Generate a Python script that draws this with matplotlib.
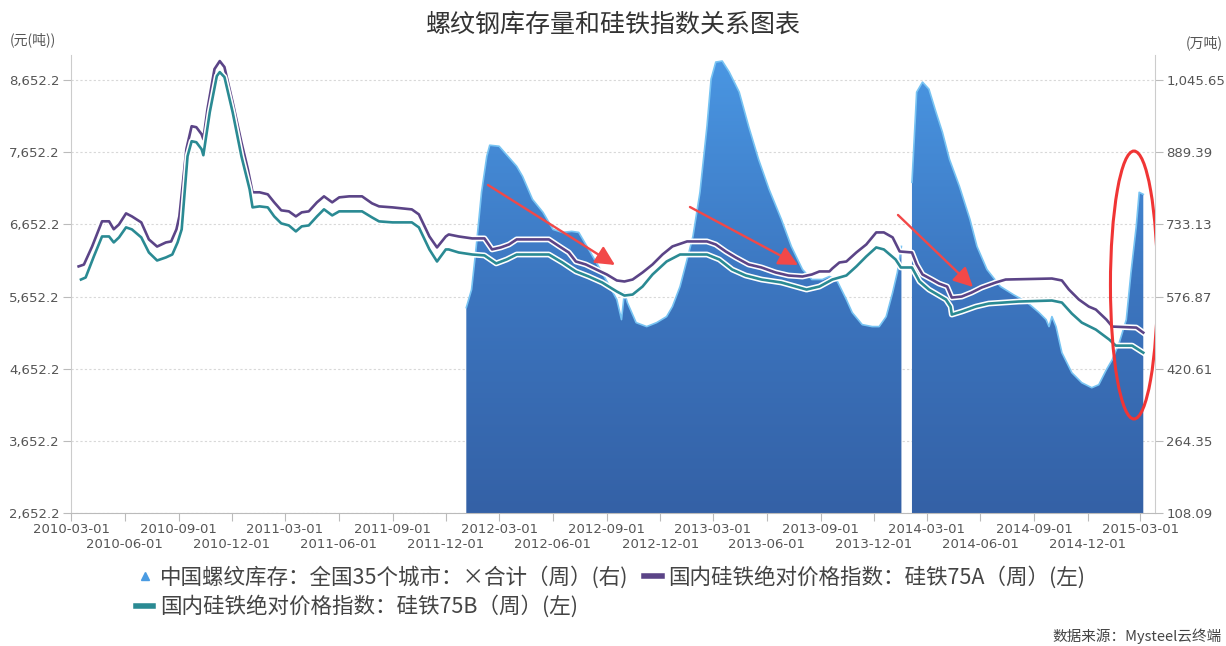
import numpy as np
import pandas as pd
import matplotlib
matplotlib.use('Agg')
import matplotlib.pyplot as plt
import matplotlib.dates as mdates
from matplotlib.lines import Line2D
from matplotlib.patches import Ellipse, PathPatch
from matplotlib.path import Path
from matplotlib.colors import LinearSegmentedColormap
import matplotlib.patheffects as pe

CJK = ['Noto Sans CJK SC', 'DejaVu Sans']
plt.rcParams['font.family'] = CJK

title = "螺纹钢库存量和硅铁指数关系图表"
left_unit = "(元(吨))"
right_unit = "(万吨)"
source = "数据来源：Mysteel云终端"
label_inv = "中国螺纹库存：全国35个城市：×合计（周）(右)"
label_a = "国内硅铁绝对价格指数：硅铁75A（周）(左)"
label_b = "国内硅铁绝对价格指数：硅铁75B（周）(左)"

left_ticks = [2652.2, 3652.2, 4652.2, 5652.2, 6652.2, 7652.2, 8652.2]
right_ticks = [108.09, 264.35, 420.61, 576.87, 733.13, 889.39, 1045.65]
x_ticks = ["2010-03-01", "2010-06-01", "2010-09-01", "2010-12-01", "2011-03-01",
           "2011-06-01", "2011-09-01", "2011-12-01", "2012-03-01", "2012-06-01",
           "2012-09-01", "2012-12-01", "2013-03-01", "2013-06-01", "2013-09-01",
           "2013-12-01", "2014-03-01", "2014-06-01", "2014-09-01", "2014-12-01",
           "2015-03-01"]

dates_75a = ["2010-03-14","2010-03-23","2010-04-06","2010-04-23","2010-05-05","2010-05-13","2010-05-22","2010-06-03","2010-06-13","2010-06-29",
             "2010-07-12","2010-07-26","2010-08-10","2010-08-19","2010-08-28","2010-09-02","2010-09-14","2010-09-23","2010-10-01","2010-10-10",
             "2010-10-13","2010-10-20","2010-11-01","2010-11-10","2010-11-18","2010-12-02","2010-12-17","2010-12-28",
             "2011-01-05","2011-01-17","2011-01-31","2011-02-11","2011-02-23","2011-03-08","2011-03-20","2011-03-30","2011-04-11","2011-04-25",
             "2011-05-07","2011-05-21","2011-06-02","2011-06-19","2011-07-11","2011-07-28","2011-08-09","2011-09-01","2011-10-04","2011-10-16",
             "2011-11-03","2011-11-16","2011-12-01","2011-12-06","2011-12-23",
             "2012-01-15","2012-02-05","2012-02-18","2012-03-04","2012-03-18","2012-03-31","2012-05-25","2012-06-12","2012-06-28","2012-07-10",
             "2012-07-27","2012-08-14","2012-09-01","2012-09-18","2012-10-01","2012-10-15","2012-11-01","2012-11-18","2012-12-05","2012-12-22",
             "2013-01-16","2013-02-19","2013-03-06","2013-03-23","2013-04-09","2013-05-01","2013-05-23","2013-06-16","2013-07-08","2013-08-01",
             "2013-08-17","2013-08-30","2013-09-16","2013-09-21","2013-10-03","2013-10-15","2013-11-01","2013-11-18","2013-12-05","2013-12-18",
             "2014-01-02","2014-01-14","2014-02-04","2014-02-12","2014-02-22","2014-03-10","2014-03-22","2014-04-05","2014-04-13","2014-04-30",
             "2014-05-17","2014-06-03","2014-06-27","2014-07-14","2014-10-01","2014-10-18","2014-10-30","2014-11-16","2014-12-03","2014-12-15",
             "2015-01-02","2015-01-12","2015-02-22","2015-03-06"]
values_75a = [6070,6095,6345,6695,6695,6585,6652,6805,6763,6680,
              6444,6345,6402,6416,6583,6763,7694,8013,7999,7902,
              7833,8249,8805,8916,8833,8347,7791,7416,
              7097,7097,7069,6958,6847,6833,6763,6819,6833,6958,
              7041,6958,7027,7041,7041,6944,6902,6888,6860,6791,
              6485,6333,6485,6513,6485,
              6458,6458,6305,6333,6374,6444,6444,6347,6263,6138,
              6097,6027,5958,5875,5861,5888,5986,6097,6235,6347,
              6416,6416,6374,6277,6194,6097,6055,5986,5944,5930,
              5958,6000,6000,6041,6124,6138,6263,6374,6541,6541,
              6472,6277,6263,6097,5958,5888,5833,5791,5638,5652,
              5708,5777,5847,5888,5902,5875,5749,5611,5513,5472,
              5333,5236,5222,5152]

dates_75b = ["2010-03-18","2010-03-26","2010-04-09","2010-04-23","2010-05-05","2010-05-13","2010-05-22","2010-06-03","2010-06-13","2010-06-29",
             "2010-07-12","2010-07-26","2010-08-10","2010-08-21","2010-08-30","2010-09-06","2010-09-16","2010-09-23","2010-10-01","2010-10-10",
             "2010-10-13","2010-10-24","2010-11-05","2010-11-10","2010-11-18","2010-12-02","2010-12-17","2010-12-31",
             "2011-01-05","2011-01-17","2011-01-31","2011-02-11","2011-02-23","2011-03-08","2011-03-20","2011-03-30","2011-04-11","2011-04-25",
             "2011-05-07","2011-05-21","2011-06-02","2011-06-19","2011-07-11","2011-07-28","2011-08-09","2011-09-01","2011-10-04","2011-10-16",
             "2011-11-03","2011-11-16","2011-12-01","2011-12-06","2011-12-23",
             "2012-01-15","2012-02-05","2012-02-25","2012-03-14","2012-03-31","2012-05-25","2012-06-17","2012-07-10","2012-08-01","2012-08-24",
             "2012-09-18","2012-10-01","2012-10-15","2012-11-01","2012-11-18","2012-12-12",
             "2013-01-04","2013-02-19","2013-03-12","2013-04-03","2013-04-26","2013-05-23","2013-06-26","2013-08-08","2013-08-30","2013-09-21",
             "2013-10-15","2013-11-01","2013-11-18","2013-12-05","2013-12-18",
             "2014-01-07","2014-01-16","2014-02-04","2014-02-17","2014-03-05","2014-04-03","2014-04-11","2014-04-13","2014-04-30","2014-05-24",
             "2014-06-15","2014-08-05","2014-10-01","2014-10-18","2014-11-04","2014-11-21","2014-12-15",
             "2015-01-07","2015-01-18","2015-02-15","2015-03-06"]
values_75b = [5888,5916,6208,6485,6485,6402,6472,6611,6583,6472,
              6263,6152,6194,6235,6402,6583,7597,7805,7791,7694,
              7611,8208,8708,8763,8694,8208,7597,7138,
              6888,6902,6888,6763,6666,6638,6555,6625,6638,6763,
              6861,6777,6833,6833,6833,6749,6694,6680,6680,6611,
              6305,6138,6305,6305,6263,
              6235,6222,6111,6166,6235,6235,6124,6000,5930,5847,
              5722,5666,5680,5791,5958,6138,
              6235,6235,6166,6027,5944,5888,5847,5749,5791,5888,
              5944,6069,6208,6333,6305,
              6166,6055,6055,5861,5749,5611,5513,5402,5444,5513,
              5555,5583,5597,5569,5416,5291,5194,
              5055,4972,4972,4874]

dates_inv = ["2012-01-05","2012-01-14","2012-01-22","2012-01-31","2012-02-09","2012-02-14","2012-03-01","2012-03-13","2012-03-31","2012-04-10",
             "2012-04-27","2012-05-15","2012-06-01","2012-06-17","2012-07-03","2012-07-15","2012-08-01","2012-08-18","2012-09-06","2012-09-18",
             "2012-09-26","2012-10-01","2012-10-06","2012-10-21","2012-11-08","2012-11-25","2012-12-12","2012-12-22",
             "2013-01-04","2013-01-16","2013-01-26","2013-02-07","2013-02-19","2013-02-26","2013-03-06","2013-03-17","2013-03-29","2013-04-15",
             "2013-05-01","2013-05-18","2013-06-05","2013-06-26","2013-07-13","2013-08-01","2013-08-17","2013-09-04","2013-09-16","2013-09-28",
             "2013-10-15","2013-10-25","2013-11-11","2013-11-28","2013-12-10","2013-12-22",
             "2014-01-02","2014-01-10","2014-01-17","2014-01-26","2014-02-04","2014-02-12","2014-02-22","2014-03-05","2014-03-17","2014-03-28",
             "2014-04-09","2014-04-26","2014-05-14","2014-05-26","2014-06-12","2014-07-05","2014-07-27","2014-08-20","2014-09-09","2014-09-21",
             "2014-09-26","2014-10-01","2014-10-08","2014-10-18","2014-11-04","2014-11-21","2014-12-08","2014-12-20",
             "2015-01-02","2015-01-12","2015-01-24","2015-02-05","2015-02-13","2015-02-22","2015-02-27","2015-03-06"]
values_inv = [552.9,592.0,685.4,802.6,880.7,904.6,902.4,885.0,859.0,837.3,
              787.4,759.2,722.3,715.8,718.0,715.8,678.9,642.0,598.6,570.3,
              526.9,585.5,563.8,520.4,511.8,520.4,533.4,555.2,
              598.6,657.2,707.1,802.6,945.8,1047.8,1084.7,1086.9,1063.0,1019.6,
              945.8,874.2,809.1,744.0,685.4,635.5,613.8,613.8,620.3,613.8,
              570.3,542.1,516.1,511.8,511.8,533.4,
              585.5,628.9,685.4,np.nan,824.3,1019.6,1041.3,1026.1,976.2,932.8,
              874.2,815.6,744.0,685.4,635.5,598.6,581.2,563.8,542.1,526.9,
              511.8,533.4,511.8,455.3,411.9,390.2,379.4,385.9,
              418.4,440.1,477.0,526.9,628.9,728.8,802.6,798.2]

C_A = '#5b4487'
C_B = '#2a8a93'
C_INV_TOP = '#4a97e3'
C_INV_BOT = '#3461a6'
C_TEXT = '#555555'

da = pd.to_datetime(dates_75a)
db = pd.to_datetime(dates_75b)
di = pd.to_datetime(dates_inv)
vi = np.array(values_inv, dtype=float)

fig = plt.figure(figsize=(12.26, 6.46), dpi=100)
fig.patch.set_facecolor('white')
ax = fig.add_axes([71/1226, 133/646, 1084/1226, 458/646])
ax2 = ax.twinx()
ax.set_zorder(ax2.get_zorder() + 1)
ax.patch.set_visible(False)

xmin = pd.Timestamp("2010-03-01")
xmax = pd.Timestamp("2015-03-26")
y2min, y2max = 108.09, 1100.0

# inventory area with vertical gradient
ok = np.isfinite(vi)
coll = ax2.fill_between(di, 0, vi, where=ok, facecolor='none', edgecolor='none', interpolate=False)
cpath = Path.make_compound_path(*coll.get_paths())
clip = PathPatch(cpath, transform=ax2.transData, facecolor='none', edgecolor='none')
ax2.add_patch(clip)
cmap = LinearSegmentedColormap.from_list('g', [C_INV_BOT, '#3c76c0', C_INV_TOP])
grad = np.linspace(0, 1, 256).reshape(-1, 1)
img = ax2.imshow(grad, extent=[mdates.date2num(xmin), mdates.date2num(xmax), y2min, y2max],
                 aspect='auto', cmap=cmap, origin='lower', zorder=1, interpolation='bilinear')
img.set_clip_path(clip)
ax2.plot(di, vi, color='#78c4f3', lw=1.2, zorder=2)

ax2.set_ylim(y2min, y2max)
ax2.set_yticks(right_ticks)
ax2.set_yticklabels([f"{v:,.2f}" for v in right_ticks])
ax2.yaxis.grid(True, color='#d8d8d8', linestyle=(0, (2, 2)), lw=0.8, zorder=0)
ax2.set_axisbelow(True)

halo = [pe.Stroke(linewidth=4.2, foreground='white'), pe.Normal()]
ax.plot(da, values_75a, color=C_A, lw=1.9, path_effects=halo, zorder=3)
ax.plot(db, values_75b, color=C_B, lw=1.9, path_effects=halo, zorder=3)
ax.set_ylim(2652.2, 9000)
ax.set_yticks(left_ticks)
ax.set_yticklabels([f"{v:,.1f}" for v in left_ticks])
ax.set_xlim(xmin, xmax)

xt = pd.to_datetime(x_ticks)
ax.set_xticks(xt[0::2])
ax.set_xticklabels(x_ticks[0::2])
ax.set_xticks(xt[1::2], minor=True)
ax.set_xticklabels(x_ticks[1::2], minor=True)

for a in (ax, ax2):
    a.tick_params(axis='both', which='both', colors='#bbbbbb', labelcolor=C_TEXT, labelsize=9.5,
                  length=6, width=0.8, pad=2)
ax.tick_params(axis='x', which='major', pad=1)
ax.tick_params(axis='x', which='minor', pad=12)
for lab in (ax.get_xticklabels() + ax.get_xticklabels(minor=True) + ax.get_yticklabels()
            + ax2.get_yticklabels()):
    lab.set_family('DejaVu Sans')

for s in ['top', 'right']:
    ax.spines[s].set_visible(False)
for s in ['top', 'left', 'bottom']:
    ax2.spines[s].set_visible(False)
ax.spines['left'].set_color('#cccccc')
ax.spines['bottom'].set_color('#bbbbbb')
ax2.spines['right'].set_color('#cccccc')

# annotations
arrow_kw = dict(arrowstyle='-|>,head_length=0.9,head_width=0.45', color='#f24848', lw=1.7,
                mutation_scale=13, shrinkA=0, shrinkB=0)
for start, end in [((0.3847, 0.7162), (0.5018, 0.5415)),
                   ((0.5710, 0.6681), (0.6707, 0.5415)),
                   ((0.7629, 0.6507), (0.8321, 0.4934))]:
    ax.annotate('', xy=end, xytext=start, xycoords='axes fraction', textcoords='axes fraction',
                arrowprops=arrow_kw, zorder=10)
ax.add_patch(Ellipse((0.9806, 0.4978), 0.0434, 0.585, transform=ax.transAxes, fill=False,
                     ec='#f03535', lw=2.2, zorder=10))

# texts
fig.text(0.5, 1 - 25/646, title, ha='center', va='center', fontsize=18, color='#333333')
fig.text(10/1226, 1 - 40/646, left_unit, ha='left', va='center', fontsize=10, color=C_TEXT)
fig.text(1223/1226, 1 - 43/646, right_unit, ha='right', va='center', fontsize=10, color=C_TEXT)
fig.text(1222/1226, 1 - 636/646, source, ha='right', va='center', fontsize=10.5, color='#444444')

# legend
h_inv = Line2D([], [], marker='^', color='#4a9be2', linestyle='None', markersize=6)
h_a = Line2D([], [], color=C_A, lw=4)
h_b = Line2D([], [], color=C_B, lw=4)
fig.legend([h_inv, h_b, h_a], [label_inv, label_b, label_a], ncol=2, loc='upper left',
           bbox_to_anchor=(136/1226, 1 - 566/646), frameon=False,
           prop={'family': CJK, 'size': 15.5}, labelcolor='#444444',
           handlelength=0.8, handletextpad=0.3, columnspacing=0.75, labelspacing=0.32,
           borderpad=0, borderaxespad=0)

fig.savefig('out.png', dpi=100, facecolor='white')
